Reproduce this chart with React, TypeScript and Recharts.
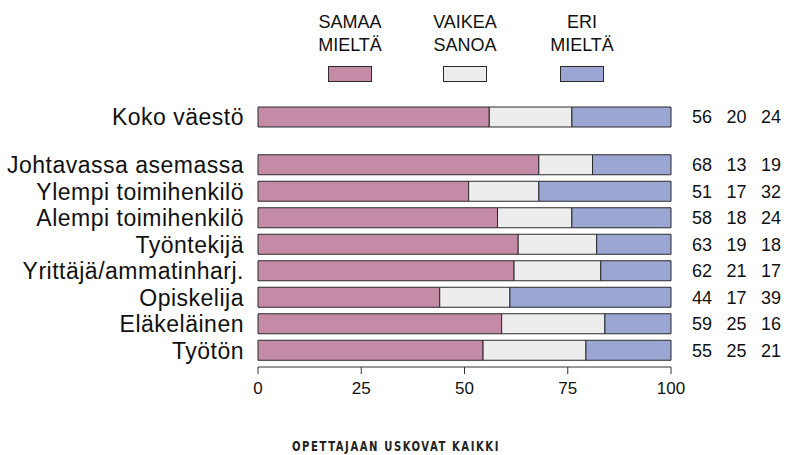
import React from "react";
import { BarChart, Bar, XAxis, YAxis, LabelList } from "recharts";

// koko väestö (top row)
const totalGroup = "Koko väestö";
const totalSamaa = 56;
const totalVaikea = 20;
const totalEri = 24;

// ammattiasema rows
const groups = [
  "Johtavassa asemassa",
  "Ylempi toimihenkilö",
  "Alempi toimihenkilö",
  "Työntekijä",
  "Yrittäjä/ammatinharj.",
  "Opiskelija",
  "Eläkeläinen",
  "Työtön",
];
const samaa = [68, 51, 58, 63, 62, 44, 59, 54.5];
const vaikea = [13, 17, 18, 19, 21, 17, 25, 24.9];
const eri = [19, 32, 24, 18, 17, 39, 16, 20.6];

const seriesLabels = [
  ["SAMAA", "MIELTÄ"],
  ["VAIKEA", "SANOA"],
  ["ERI", "MIELTÄ"],
];
const xTicks = [0, 25, 50, 75, 100];
const footer = "OPETTAJAAN USKOVAT KAIKKI";

const COLORS = ["#C48BA6", "#EDEDED", "#9CA6D2"];
const EDGE = "#2a2a2a";
const FONT = "'Liberation Sans', Arial, Helvetica, sans-serif";

const W = 787;
const PLOT_LEFT = 258;
const PLOT_RIGHT = 671;

const totalData = [
  { name: totalGroup, samaa: totalSamaa, vaikea: totalVaikea, eri: totalEri },
];
const groupData = groups.map((name, i) => ({
  name,
  samaa: samaa[i],
  vaikea: vaikea[i],
  eri: eri[i],
}));

// three numbers printed right of each bar
const rightNumbers = (rows: { samaa: number; vaikea: number; eri: number }[]) =>
  (props: any) => {
    const { x, y, width, height, index } = props;
    const row = rows[index];
    if (!row) return null;
    const x0 = Number(x) + Number(width);
    const cy = Number(y) + Number(height) / 2;
    const vals = [row.samaa, row.vaikea, row.eri];
    return (
      <g>
        {vals.map((v, i) => (
          <text
            key={i}
            x={x0 + 31 + i * 34.5}
            y={cy}
            dy="0.36em"
            textAnchor="middle"
            fontSize={18}
            fontFamily={FONT}
            fill="#111"
          >
            {Math.round(v)}
          </text>
        ))}
      </g>
    );
  };

const bars = (rows: any[]) => [
  <Bar key="s" dataKey="samaa" stackId="a" fill={COLORS[0]} stroke={EDGE} strokeWidth={1} barSize={20} isAnimationActive={false} />,
  <Bar key="v" dataKey="vaikea" stackId="a" fill={COLORS[1]} stroke={EDGE} strokeWidth={1} barSize={20} isAnimationActive={false} />,
  <Bar key="e" dataKey="eri" stackId="a" fill={COLORS[2]} stroke={EDGE} strokeWidth={1} barSize={20} isAnimationActive={false}>
    <LabelList dataKey="eri" content={rightNumbers(rows)} />
  </Bar>,
];

const legendCenters = [350, 465, 582];

function LegendBlock() {
  return (
    <div style={{ position: "absolute", left: 0, top: 0, width: W, height: 90 }}>
      {seriesLabels.map((lines, i) => (
        <div
          key={i}
          style={{
            position: "absolute",
            left: legendCenters[i] - 60,
            top: 11,
            width: 120,
            textAlign: "center",
            fontFamily: FONT,
            fontSize: 18,
            lineHeight: "23px",
            color: "#111",
          }}
        >
          {lines.map((l) => (
            <div key={l}>{l}</div>
          ))}
          <div
            style={{
              margin: "9px auto 0",
              width: 44,
              height: 16,
              boxSizing: "border-box",
              background: COLORS[i],
              border: `1px solid ${EDGE}`,
            }}
          />
        </div>
      ))}
    </div>
  );
}

export default function App() {
  const yTick = { fontSize: 23, letterSpacing: 0.5, fill: "#111", fontFamily: FONT };
  return (
    <div style={{ position: "absolute", left: 0, top: 0, width: W, height: 455, background: "#fff", overflow: "hidden" }}>
      <LegendBlock />
      <div style={{ position: "absolute", left: 0, top: 0 }}>
        <BarChart
          width={W}
          height={140}
          data={totalData}
          layout="vertical"
          margin={{ top: 103, right: W - PLOT_RIGHT, bottom: 10, left: 0 }}
        >
          <XAxis type="number" domain={[0, 100]} hide />
          <YAxis
            type="category"
            dataKey="name"
            width={PLOT_LEFT}
            axisLine={false}
            tickLine={false}
            tickSize={0}
            tickMargin={14}
            interval={0}
            tick={yTick}
          />
          {bars(totalData)}
        </BarChart>
      </div>
      <div style={{ position: "absolute", left: 0, top: 0 }}>
        <BarChart
          width={W}
          height={455}
          data={groupData}
          layout="vertical"
          margin={{ top: 151.75, right: W - PLOT_RIGHT, bottom: 58, left: 0 }}
        >
          <XAxis
            type="number"
            domain={[0, 100]}
            ticks={xTicks}
            height={30}
            stroke="#333"
            tickSize={7}
            tickMargin={8}
            tick={{ fontSize: 17, fill: "#111", fontFamily: FONT }}
          />
          <YAxis
            type="category"
            dataKey="name"
            width={PLOT_LEFT}
            padding={{ top: 0, bottom: 3.25 }}
            axisLine={false}
            tickLine={false}
            tickSize={0}
            tickMargin={14}
            interval={0}
            tick={yTick}
          />
          {bars(groupData)}
        </BarChart>
      </div>
      <svg width={W} height={455} style={{ position: "absolute", left: 0, top: 0 }}>
        <text
          x={292}
          y={451}
          textLength={208}
          lengthAdjust="spacingAndGlyphs"
          fontFamily="'DejaVu Sans Condensed', 'DejaVu Sans', sans-serif"
          fontWeight="bold"
          fontSize={14}
          letterSpacing={2}
          fill="#222"
        >
          {footer}
        </text>
      </svg>
    </div>
  );
}
